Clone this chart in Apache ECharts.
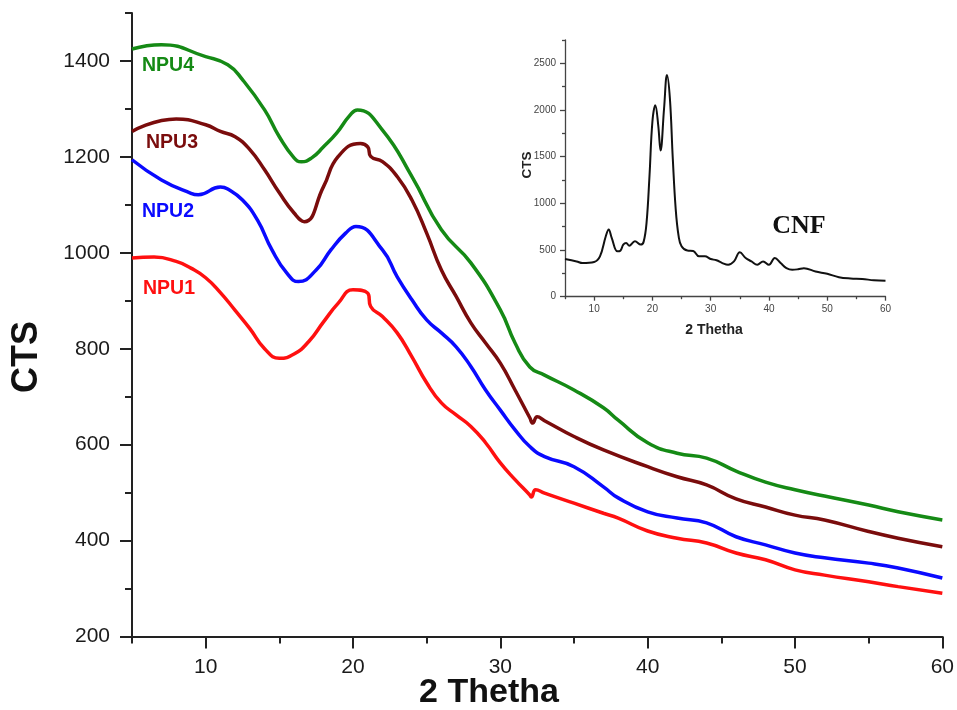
<!DOCTYPE html>
<html><head><meta charset="utf-8">
<script src="https://cdn.jsdelivr.net/npm/echarts@6/dist/echarts.min.js"></script>
<style>html,body{margin:0;padding:0;background:#fff}#c{width:957px;height:710px}</style>
</head><body><div id="c"></div>
<script>
// ---- data ----
const seriesNames = ['NPU1', 'NPU2', 'NPU3', 'NPU4'];
const npu1X = [5,6.5,8,9,10,11,12,13,14,15,16,17,18,19,20,21,21.2,22,23,24,25,26,27,28,29,30,31,32,32.1,32.4,33,35,37,38,40,42,44,46,48,50,52,55,57,60];
const npu1Y = [989,991,982,968,948,917,880,842,800,780,789,815,856,895,923,916,888,867,833,783,729,687,662,638,604,562,527,495,491,506,499,478,457,447,420,405,395,374,360,339,328,314,304,290];
const npu2X = [5,7,9,9.5,11,11.5,12.5,13.5,14.5,15.5,16.3,17.5,18.5,19.5,20.2,22,23,24,25,26,27,28,29,30,31,32,33,35,37,38,40,42,44,46,48,50,52,55,57,60];
const npu2Y = [1194,1152,1124,1121,1137,1133,1110,1069,1006,958,940,964,1006,1041,1055,1006,950,902,860,833,804,763,714,672,631,596,575,554,512,489,460,447,437,408,391,374,364,353,343,322];
const npu3X = [5,8,10,11,12,13,14,15,16,16.7,18,19,20.5,21,21.2,22,23,24,25,26,27,28,29,30,31,32,32.2,32.5,33,35,37,40,42,44,46,48,50,52,55,57,60];
const npu3Y = [1253,1279,1267,1253,1242,1215,1173,1125,1083,1065,1138,1201,1228,1221,1201,1190,1159,1110,1041,964,909,854,812,770,714,656,645,658,650,617,589,554,533,516,487,470,453,443,419,405,387];
const npu4X = [5,7,10,11.5,12.5,14,15,16,16.5,17.2,18,18.9,19.8,20.3,22,24,26,28,30,31,32,33,35,37,38,40,42,44,46,48,50,52,55,57,60];
const npu4Y = [1425,1434,1409,1392,1361,1298,1242,1198,1190,1198,1221,1250,1287,1298,1256,1159,1048,979,881,812,762,745,714,677,651,604,582,572,545,522,506,493,474,460,443];
const cnfX = [5,7,8,10,11,12,12.5,13,14,14.5,15,15.5,16,17,18,18.5,19,19.5,20,20.5,21,21.4,22,22.5,23,23.5,24,24.5,25,26,27,28,29,30,31,32,33,34,35,36,37,38,39,40,41,42,43,44,45,46,48,50,52,54,56,58,60];
const cnfY = [404,378,360,372,432,648,720,634,486,493,558,576,547,594,558,590,796,1296,1876,2052,1836,1566,2016,2376,2124,1476,936,648,540,494,490,432,432,404,390,360,342,378,475,415,378,342,378,342,415,360,306,288,294,306,270,245,209,195,190,176,170];

const mainMajorX = [10,20,30,40,50,60];
const mainMinorX = [5,15,25,35,45,55];
const mainMajorY = [200,400,600,800,1000,1200,1400];
const mainMinorY = [300,500,700,900,1100,1300,1500];
const insetMajorX = [10,20,30,40,50,60];
const insetMinorX = [5,15,25,35,45,55];
const insetMajorY = [0,500,1000,1500,2000,2500];
const insetMinorY = [250,750,1250,1750,2250,2750];

// ---- chart ----
const FONT = "'Liberation Sans', Arial, sans-serif";
const pairs = (xs, ys) => xs.map((x, i) => [x, ys[i]]);
const colors = ['#ff1010', '#0a0aff', '#7a0c0c', '#158a15'];

function axis(kind, grid, min, max, ticks, tickLen, labels, lineW, labelStyle, lineColor, showLine) {
  const a = {
    type: 'value', gridIndex: grid, min: min, max: max,
    splitLine: { show: false },
    axisLine: { show: showLine, onZero: false, lineStyle: { color: lineColor, width: lineW } },
    axisTick: { show: true, inside: false, length: tickLen, customValues: ticks, lineStyle: { color: lineColor, width: lineW } },
    axisLabel: labels ? Object.assign({ show: true, customValues: ticks, formatter: v => String(v) }, labelStyle) : { show: false },
    minorTick: { show: false }
  };
  a.position = kind === 'y' ? 'left' : 'bottom';
  return a;
}

const mainLabel = { fontFamily: FONT, fontSize: 21, color: '#1a1a1a', margin: 22 };
const mainLabelX = { fontFamily: FONT, fontSize: 21, color: '#1a1a1a', margin: 20 };
const insetLabel = { fontFamily: FONT, fontSize: 10, color: '#444', margin: 9 };
const insetLabelX = { fontFamily: FONT, fontSize: 10, color: '#444', margin: 8 };

const chart = echarts.init(document.getElementById('c'), null, { renderer: 'canvas' });
chart.setOption({
  backgroundColor: '#ffffff',
  animation: false,
  grid: [
    { left: 132, top: 13, width: 811, height: 623.5, containLabel: false },
    { left: 565, top: 40, width: 320.5, height: 256.7, containLabel: false }
  ],
  xAxis: [
    axis('x', 0, 5, 60, mainMajorX, 12, true, 2, mainLabelX, '#222', true),
    axis('x', 0, 5, 60, mainMinorX, 7, false, 2, null, '#222', false),
    axis('x', 1, 5, 60, insetMajorX, 4, true, 1.3, insetLabelX, '#444', true),
    axis('x', 1, 5, 60, insetMinorX, 2.5, false, 1.3, null, '#444', false)
  ],
  yAxis: [
    axis('y', 0, 200, 1500, mainMajorY, 12, true, 2, mainLabel, '#222', true),
    axis('y', 0, 200, 1500, mainMinorY, 7, false, 2, null, '#222', false),
    axis('y', 1, 0, 2750, insetMajorY, 5, true, 1.3, insetLabel, '#444', true),
    axis('y', 1, 0, 2750, insetMinorY, 3, false, 1.3, null, '#444', false)
  ],
  series: [
    { name: seriesNames[0], type: 'line', xAxisIndex: 0, yAxisIndex: 0, data: pairs(npu1X, npu1Y), smooth: 0.5, showSymbol: false, lineStyle: { color: colors[0], width: 3.5 } },
    { name: seriesNames[1], type: 'line', xAxisIndex: 0, yAxisIndex: 0, data: pairs(npu2X, npu2Y), smooth: 0.5, showSymbol: false, lineStyle: { color: colors[1], width: 3.5 } },
    { name: seriesNames[2], type: 'line', xAxisIndex: 0, yAxisIndex: 0, data: pairs(npu3X, npu3Y), smooth: 0.5, showSymbol: false, lineStyle: { color: colors[2], width: 3.5 } },
    { name: seriesNames[3], type: 'line', xAxisIndex: 0, yAxisIndex: 0, data: pairs(npu4X, npu4Y), smooth: 0.5, showSymbol: false, lineStyle: { color: colors[3], width: 3.5 } },
    { name: 'CNF', type: 'line', xAxisIndex: 2, yAxisIndex: 2, data: pairs(cnfX, cnfY), smooth: 0.4, showSymbol: false, lineStyle: { color: '#111', width: 2 } }
  ],
  graphic: [
    { type: 'text', left: 142, top: 56, style: { text: 'NPU4', font: 'bold 19.5px ' + FONT, fill: colors[3] } },
    { type: 'text', left: 146, top: 133, style: { text: 'NPU3', font: 'bold 19.5px ' + FONT, fill: colors[2] } },
    { type: 'text', left: 142, top: 202, style: { text: 'NPU2', font: 'bold 19.5px ' + FONT, fill: colors[1] } },
    { type: 'text', left: 143, top: 279, style: { text: 'NPU1', font: 'bold 19.5px ' + FONT, fill: colors[0] } },
    { type: 'text', x: 27, y: 357, rotation: Math.PI / 2, style: { text: 'CTS', font: 'bold 36px ' + FONT, fill: '#111', align: 'center', verticalAlign: 'middle' } },
    { type: 'text', x: 489, y: 693, style: { text: '2 Thetha', font: 'bold 34px ' + FONT, fill: '#111', align: 'center', verticalAlign: 'middle' } },
    { type: 'text', x: 527, y: 165, rotation: Math.PI / 2, style: { text: 'CTS', font: 'bold 13.5px ' + FONT, fill: '#222', align: 'center', verticalAlign: 'middle' } },
    { type: 'text', x: 714, y: 330, style: { text: '2 Thetha', font: 'bold 14px ' + FONT, fill: '#222', align: 'center', verticalAlign: 'middle' } },
    { type: 'text', x: 799, y: 226, style: { text: 'CNF', font: 'bold 26px "Liberation Serif", "Times New Roman", serif', fill: '#111', align: 'center', verticalAlign: 'middle' } }
  ]
});
</script></body></html>
